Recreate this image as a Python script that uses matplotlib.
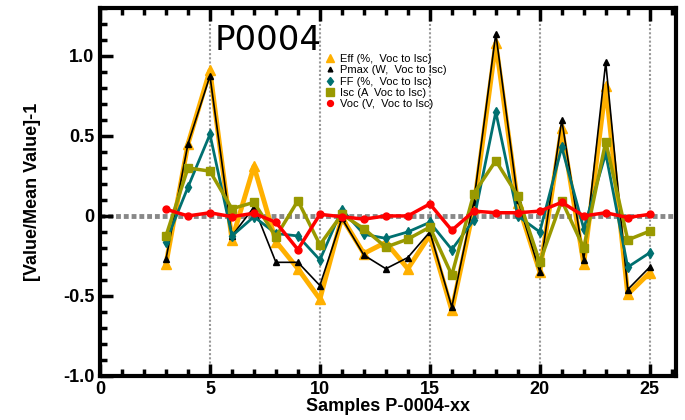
import matplotlib

matplotlib.use('agg')
import matplotlib.pyplot as plt
from matplotlib.ticker import FixedLocator, FixedFormatter, MultipleLocator

# sample numbers and relative deviation of each parameter
samples = list(range(3, 26))
eff = [-0.30, 0.45, 0.91, -0.15, 0.31, -0.16, -0.33, -0.52, -0.01, -0.235, -0.165, -0.33,
       -0.12, -0.59, 0.05, 1.08, 0.08, -0.35, 0.55, -0.30, 0.81, -0.49, -0.355]
pmax = [-0.27, 0.45, 0.875, -0.125, 0.055, -0.29, -0.29, -0.435, -0.015, -0.245, -0.33, -0.26,
        -0.10, -0.57, 0.09, 1.14, 0.10, -0.35, 0.60, -0.275, 0.96, -0.46, -0.32]
ff = [-0.16, 0.18, 0.51, -0.125, -0.005, -0.11, -0.125, -0.275, 0.04, -0.115, -0.14, -0.10,
      -0.04, -0.21, -0.025, 0.65, 0.0, -0.10, 0.43, -0.08, 0.39, -0.32, -0.23]
isc = [-0.125, 0.30, 0.28, 0.045, 0.085, -0.13, 0.095, -0.18, 0.01, -0.08, -0.195, -0.145,
       -0.07, -0.37, 0.14, 0.345, 0.125, -0.29, 0.095, -0.20, 0.465, -0.15, -0.095]
voc = [0.042, 0.0, 0.02, -0.005, 0.017, -0.04, -0.21, 0.01, -0.005, -0.02, 0.0, 0.0,
       0.075, -0.09, 0.03, 0.02, 0.02, 0.03, 0.085, 0.0, 0.02, -0.01, 0.01]

x_ticks = [0, 5, 10, 15, 20, 25]
x_labels = ['0', '5', '10', '15', '20', '25']
y_ticks = [-1.0, -0.5, 0, 0.5, 1.0]
y_labels = ['-1.0', '-0.5', '0', '0.5', '1.0']

fig = plt.figure(figsize=(6.85, 4.2), dpi=100)
ax = fig.add_axes([0.146, 0.105, 0.841, 0.876])

for xv in x_ticks[1:]:
    ax.axvline(xv, color='#999999', lw=1.5, ls=(0, (1, 1)), zorder=0)
ax.axhline(0, color='#888888', lw=3.5, ls=(0, (1, 0.6)), zorder=0)

ax.plot(samples, eff, color='#FFB000', lw=3.5, marker='^', ms=7, label='Eff (%,  Voc to Isc)')
ax.plot(samples, pmax, color='black', lw=1.2, marker='^', ms=4, label='Pmax (W,  Voc to Isc)')
ax.plot(samples, ff, color='#007070', lw=2, marker='d', ms=5, label='FF (%,  Voc to Isc)')
ax.plot(samples, isc, color='#999900', lw=2.5, marker='s', ms=6, label='Isc (A  Voc to Isc)')
ax.plot(samples, voc, color='#FF0000', lw=2.5, marker='o', ms=5, label='Voc (V,  Voc to Isc)')

ax.set_xlim(0, 26.2)
ax.set_ylim(-1.0, 1.3)

ax.xaxis.set_major_locator(FixedLocator(x_ticks))
ax.xaxis.set_major_formatter(FixedFormatter(x_labels))
ax.xaxis.set_minor_locator(MultipleLocator(1))
ax.yaxis.set_major_locator(FixedLocator(y_ticks))
ax.yaxis.set_major_formatter(FixedFormatter(y_labels))
ax.yaxis.set_minor_locator(MultipleLocator(0.1))

ax.tick_params(which='both', direction='in', top=True, right=False, width=2.5)
ax.tick_params(which='major', length=9, labelsize=13, pad=4)
ax.tick_params(which='minor', length=5)
for lab in ax.get_xticklabels() + ax.get_yticklabels():
    lab.set_fontweight('bold')
    lab.set_family('Liberation Sans')

for sp in ax.spines.values():
    sp.set_linewidth(3)

ax.set_xlabel('Samples P-0004-xx', fontsize=13, fontweight='bold', family='Liberation Sans', labelpad=0)
ax.set_ylabel('[Value/Mean Value]-1', fontsize=13, fontweight='bold', family='Liberation Sans', labelpad=16)

ax.text(5.2, 1.095, 'P0004', fontsize=24.5, family='DejaVu Sans', ha='left', va='center')

# legend shows only the symbols, no line pieces
leg = ax.legend(loc='upper left', bbox_to_anchor=(0.383, 0.89), frameon=False,
                handlelength=0.6, handletextpad=0.6, labelspacing=0.12, borderpad=0,
                markerscale=0.85, prop={'family': 'Liberation Sans', 'size': 8})
for h in leg.legend_handles:
    h.set_linestyle('none')

plt.savefig('out.png', dpi=100)
